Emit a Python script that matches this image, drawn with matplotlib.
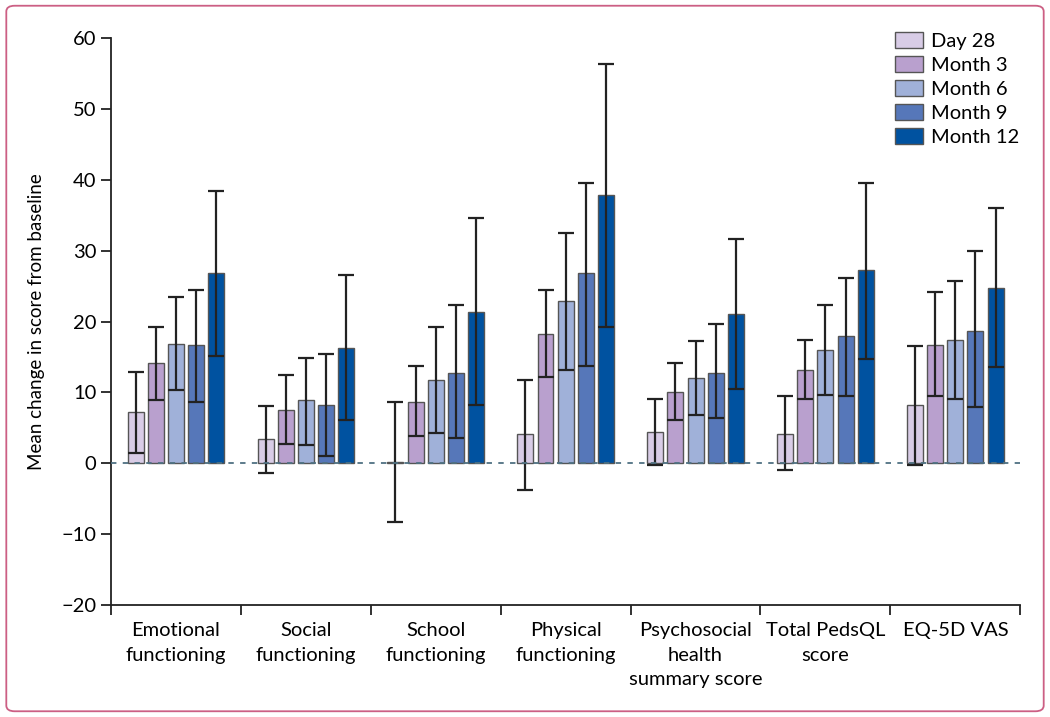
import numpy as np
import matplotlib.pyplot as plt
from matplotlib.patches import FancyBboxPatch

plt.rcParams['font.family'] = ['Lato', 'DejaVu Sans']

categories = ['Emotional\nfunctioning', 'Social\nfunctioning', 'School\nfunctioning',
              'Physical\nfunctioning', 'Psychosocial\nhealth\nsummary score',
              'Total PedsQL\nscore', 'EQ-5D VAS']
timepoints = ['Day 28', 'Month 3', 'Month 6', 'Month 9', 'Month 12']

# mean change per timepoint (one value per category)
day28 = [7.3, 3.4, 0.2, 4.2, 4.4, 4.1, 8.2]
month3 = [14.1, 7.5, 8.7, 18.3, 10.1, 13.2, 16.7]
month6 = [16.9, 8.9, 11.7, 22.9, 12.1, 16.0, 17.4]
month9 = [16.7, 8.2, 12.8, 26.8, 12.8, 17.9, 18.7]
month12 = [26.8, 16.3, 21.4, 37.8, 21.0, 27.3, 24.8]

# upper and lower error bar ends
day28_hi = [12.9, 8.05, 8.6, 11.8, 9.1, 9.5, 16.5]
day28_lo = [1.45, -1.3, -8.3, -3.7, -0.3, -1.0, -0.3]
month3_hi = [19.3, 12.4, 13.7, 24.4, 14.1, 17.4, 24.2]
month3_lo = [9.0, 2.8, 3.8, 12.2, 6.1, 9.1, 9.5]
month6_hi = [23.4, 14.9, 19.3, 32.5, 17.2, 22.3, 25.7]
month6_lo = [10.4, 2.6, 4.3, 13.2, 6.8, 9.7, 9.1]
month9_hi = [24.5, 15.4, 22.3, 39.6, 19.6, 26.2, 29.9]
month9_lo = [8.6, 1.0, 3.6, 13.7, 6.4, 9.5, 7.9]
month12_hi = [38.4, 26.6, 34.6, 56.3, 31.6, 39.6, 36.0]
month12_lo = [15.2, 6.1, 8.2, 19.3, 10.5, 14.7, 13.6]

means = [day28, month3, month6, month9, month12]
highs = [day28_hi, month3_hi, month6_hi, month9_hi, month12_hi]
lows = [day28_lo, month3_lo, month6_lo, month9_lo, month12_lo]
colors = ['#d8cce6', '#b9a0ce', '#a0b1d9', '#5677b9', '#0052a0']

fig = plt.figure(figsize=(10.5, 7.17), dpi=100)
ax = fig.add_axes([0.1057, 0.156, 0.866, 0.791])

x = np.arange(len(categories))
pitch = 0.155
width = 0.123
for i, (m, hi, lo) in enumerate(zip(means, highs, lows)):
    m = np.array(m)
    pos = x + (i - 2) * pitch
    ax.bar(pos, m, width, color=colors[i], edgecolor='#555555', linewidth=1.0,
           label=timepoints[i], zorder=2)
    yerr = [m - np.array(lo), np.array(hi) - m]
    ax.errorbar(pos, m, yerr=yerr, fmt='none', ecolor='#222222', elinewidth=1.6,
                capsize=5.5, capthick=1.6, zorder=3)

ax.axhline(0, color='#4f7182', linestyle=(0, (3, 3.5)), linewidth=1.3, zorder=4)

ax.set_xlim(-0.5, len(categories) - 0.5)
ax.set_ylim(-20, 60)
ax.set_yticks(np.arange(-20, 61, 10))
ax.set_yticklabels([str(v).replace('-', '\u2212') for v in range(-20, 61, 10)])
ax.set_xticks(np.arange(-0.5, len(categories), 1.0))
ax.set_xticklabels([])
ax.set_xticks(x, minor=True)
ax.set_xticklabels(categories, minor=True, fontsize=14.5, va='top', linespacing=1.55)
ax.tick_params(axis='x', which='minor', length=0, pad=12)
ax.tick_params(axis='x', which='major', length=7, width=1.3, color='#222222')
ax.tick_params(axis='y', length=7, width=1.3, color='#222222', labelsize=14.5)
for s in ['top', 'right']:
    ax.spines[s].set_visible(False)
for s in ['left', 'bottom']:
    ax.spines[s].set_linewidth(1.3)
    ax.spines[s].set_color('#222222')
ax.set_ylabel('Mean change in score from baseline', fontsize=13.5, labelpad=12)

ax.legend(loc='upper right', bbox_to_anchor=(1.008, 1.025), frameon=False, fontsize=14.5,
          handlelength=1.4, handleheight=0.85, handletextpad=0.4, labelspacing=0.3,
          borderaxespad=0.0)

border = FancyBboxPatch((0.006, 0.008), 0.988, 0.984, boxstyle='round,pad=0,rounding_size=0.008',
                        transform=fig.transFigure, fill=False, edgecolor='#cc5f84',
                        linewidth=1.3)
fig.patches.append(border)

fig.savefig('out.png', dpi=100)
